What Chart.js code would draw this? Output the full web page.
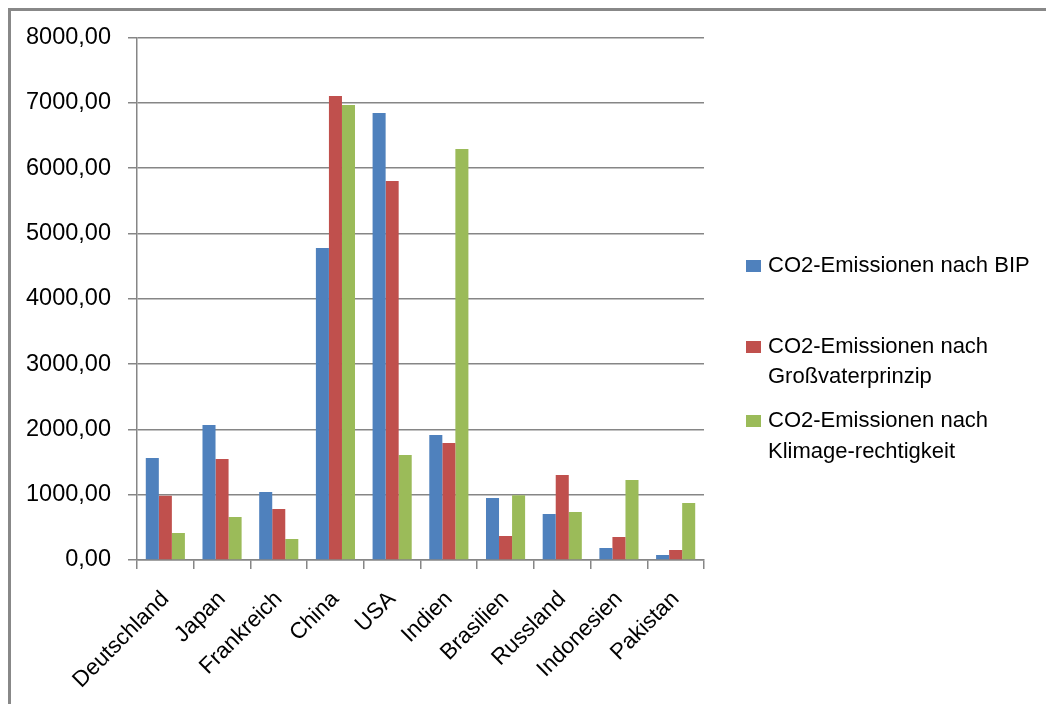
<!DOCTYPE html>
<html>
<head>
<meta charset="utf-8">
<script src="https://cdn.jsdelivr.net/npm/chart.js@4"></script>
<style>
  html, body { margin: 0; padding: 0; background: #fff; }
  #wrap { position: relative; width: 1046px; height: 704px; }
  #frame { position: absolute; left: 8px; top: 8px; right: -10px; bottom: -10px;
           border-left: 3px solid #888; border-top: 3px solid #888; pointer-events: none; }
  canvas { position: absolute; left: 0; top: 0; }
</style>
</head>
<body>
<div id="wrap">
  <canvas id="c" width="1046" height="704"></canvas>
  <div id="frame"></div>
</div>
<script>
const categories = ['Deutschland', 'Japan', 'Frankreich', 'China', 'USA', 'Indien', 'Brasilien', 'Russland', 'Indonesien', 'Pakistan'];
const seriesNames = ['CO2-Emissionen nach BIP', 'CO2-Emissionen nach Großvaterprinzip', 'CO2-Emissionen nach Klimage-rechtigkeit'];
const legendLines = [
  ['CO2-Emissionen nach BIP'],
  ['CO2-Emissionen nach', 'Großvaterprinzip'],
  ['CO2-Emissionen nach', 'Klimage-rechtigkeit']
];
const bipValues = [1560, 2067, 1041, 4778, 6845, 1914, 949, 704, 184, 77];
const grossvaterValues = [985, 1547, 781, 7105, 5804, 1792, 368, 1302, 352, 153];
const klimaValues = [413, 658, 321, 6968, 1608, 6294, 990, 735, 1225, 873];
const yTicks = [0, 1000, 2000, 3000, 4000, 5000, 6000, 7000, 8000];

const FONT = '"Liberation Sans", Arial, sans-serif';
const GRID = '#868686';

const legendPlugin = {
  id: 'customLegend',
  afterDraw(chart) {
    const ctx = chart.ctx;
    const rows = [[266], [347, 377], [421, 452]];
    ctx.save();
    chart.data.datasets.forEach((ds, i) => {
      ctx.fillStyle = ds.backgroundColor;
      ctx.fillRect(746, rows[i][0] - 6, 15, 12);
      ctx.fillStyle = '#000';
      ctx.font = '22px ' + FONT;
      ctx.textBaseline = 'middle';
      ctx.textAlign = 'left';
      legendLines[i].forEach((line, j) => ctx.fillText(line, 768, rows[i][j]));
    });
    ctx.restore();
  }
};

new Chart(document.getElementById('c'), {
  type: 'bar',
  data: {
    labels: categories,
    datasets: [
      { label: seriesNames[0], data: bipValues, backgroundColor: '#4F81BD' },
      { label: seriesNames[1], data: grossvaterValues, backgroundColor: '#C0504D' },
      { label: seriesNames[2], data: klimaValues, backgroundColor: '#9BBB59' }
    ]
  },
  options: {
    responsive: false,
    animation: false,
    devicePixelRatio: 1,
    layout: { padding: { top: 37.5, right: 342, bottom: 0, left: 0 } },
    datasets: { bar: { categoryPercentage: 0.69, barPercentage: 1.0 } },
    plugins: { legend: { display: false }, tooltip: { enabled: false } },
    scales: {
      x: {
        offset: true,
        grid: { display: true, drawOnChartArea: false, drawTicks: true, tickLength: 9, color: GRID, lineWidth: 1.5, offset: true },
        border: { display: true, color: GRID, width: 1.5 },
        ticks: { color: '#000', font: { family: FONT, size: 22.5 }, minRotation: 45, maxRotation: 45, padding: 17, autoSkip: false },
        afterFit(scale) { scale.height = 144; }
      },
      y: {
        min: 0, max: 8000,
        afterBuildTicks(scale) { scale.ticks = yTicks.map(v => ({ value: v })); },
        grid: { color: GRID, lineWidth: 1.5, tickLength: 9, drawTicks: true },
        border: { display: true, color: GRID, width: 1.5 },
        ticks: {
          color: '#000', font: { family: FONT, size: 23.5 }, padding: 17,
          callback: v => Number(v).toFixed(2).replace('.', ',')
        },
        afterFit(scale) { scale.width = 137; }
      }
    }
  },
  plugins: [legendPlugin]
});
</script>
</body>
</html>
